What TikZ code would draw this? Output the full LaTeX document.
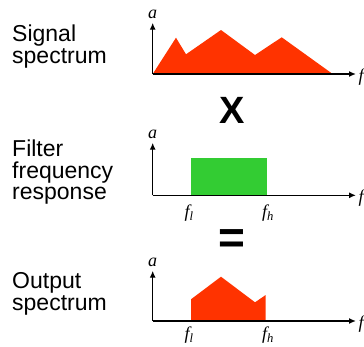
\documentclass[tikz,border=0pt]{standalone}
\usepackage{fontspec}
\setmainfont{Liberation Sans}
\newfontfamily\axisfont{Liberation Serif}
\usetikzlibrary{arrows.meta}
\definecolor{specred}{RGB}{255,51,0}
\definecolor{passgreen}{RGB}{51,204,51}
\tikzset{
	caption/.style={anchor=north west, align=left, inner sep=0pt, font=\fontsize{23}{21.8}\selectfont},
	axlabel/.style={inner sep=0pt, font=\axisfont\itshape\fontsize{18}{18}\selectfont},
	axis/.style={->, line width=1.4pt},
	opsign/.style={inner sep=0pt, font=\bfseries}
}
\begin{document}
\begin{tikzpicture}[x=1pt, y=-1pt, >={Latex[length=7pt,width=6pt]}]
		\useasboundingbox (0,0) rectangle (364,346);
		
		% Row captions
		\node[caption] (sig) at (12,24.5) {Signal\\spectrum};
		\node[caption] (filt) at (12,139.5) {Filter\\frequency\\response};
		\node[caption] (out) at (12,272.5) {Output\\spectrum};
		
		% Axes origins and tips
		\coordinate (O1) at (152.7,74);
		\coordinate (Y1) at (152.7,22.7);
		\coordinate (X1) at (356,74);
		\coordinate (O2) at (152.7,195.3);
		\coordinate (Y2) at (152.7,142.7);
		\coordinate (X2) at (356,195.3);
		\coordinate (O3) at (152.7,321);
		\coordinate (Y3) at (152.7,270.7);
		\coordinate (X3) at (356,321);
		
		% Signal spectrum
		\fill[specred] (O1) -- (176,37.7) -- (186,54.3) -- (221,30) -- (255,55)
			-- (281.7,37.3) -- (332.7,74) -- cycle;
		
		% Filter pass band
		\fill[passgreen] (191,157.7) rectangle (266.7,195.3);
		
		% Output spectrum
		\fill[specred] (191,321) -- (191,299.3) -- (221,276.7) -- (255,302.3)
			-- (265.7,295) -- (265.7,321) -- cycle;
		
		% Axes
		\draw[axis] (O1) -- (Y1);
		\draw[axis] (O1) -- (X1);
		\draw[axis] (O2) -- (Y2);
		\draw[axis] (O2) -- (X2);
		\draw[axis] (O3) -- (Y3);
		\draw[axis] (O3) -- (X3);
		
		% Axis labels
		\node[axlabel] (a1) at (152.5,14.5) {a};
		\node[axlabel] (a2) at (152.5,134.5) {a};
		\node[axlabel] (a3) at (152.5,262) {a};
		\node[axlabel, anchor=west] (f1) at (358.5,77) {f};
		\node[axlabel, anchor=west] (f2) at (358.5,198) {f};
		\node[axlabel, anchor=west] (f3) at (358.5,324) {f};
		
		% Band edges
		\node[axlabel] (fl2) at (189,213) {f\textsubscript{l}};
		\node[axlabel] (fh2) at (268,213) {f\textsubscript{h}};
		\node[axlabel] (fl3) at (189,335.5) {f\textsubscript{l}};
		\node[axlabel] (fh3) at (268,335.5) {f\textsubscript{h}};
		
		% Operators
		\node[opsign, font=\bfseries\fontsize{38}{38}\selectfont] (times) at (231.7,110.5) {X};
		\node[opsign, font=\bfseries\fontsize{46}{46}\selectfont] (equals) at (232,242) {=};
		
	\end{tikzpicture}
\end{document}
